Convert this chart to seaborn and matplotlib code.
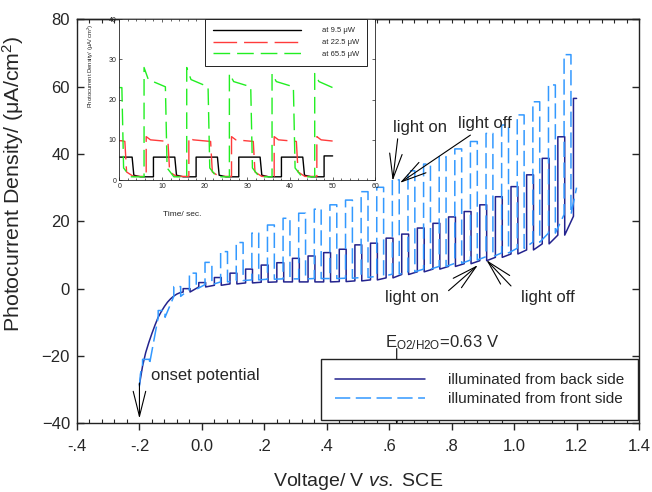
import pandas as pd
import seaborn as sns
import matplotlib.pyplot as plt
from matplotlib.ticker import MultipleLocator, FixedLocator, FixedFormatter

# ==================================
# Main chart data
# ==================================

# back side illumination: smooth part before the chopping starts
back_pre_v = [-0.2, -0.19, -0.18, -0.17, -0.16, -0.15, -0.14, -0.13, -0.12, -0.11, -0.1, -0.09, -0.08, -0.07]
back_pre_i = [-28.5, -23.0, -19.0, -16.0, -13.3, -10.8, -8.5, -6.8, -5.3, -4.0, -3.0, -2.2, -1.6, -1.2]

# back side: chopped part (light-on voltage, dark current, light current)
back_on_v = [-0.06, -0.01, 0.04, 0.09, 0.14, 0.19, 0.24, 0.29, 0.34, 0.39, 0.44, 0.49, 0.54,
             0.59, 0.64, 0.69, 0.74, 0.79, 0.84, 0.89, 0.94, 0.99, 1.04, 1.09, 1.14, 1.19]
back_dark = [-1.0, 0.5, 1.0, 1.4, 1.7, 1.9, 2.0, 2.0, 2.0, 2.0, 2.1, 2.3, 2.6,
             3.2, 4.2, 5.0, 5.8, 6.6, 7.4, 8.3, 9.3, 10.3, 11.5, 13.3, 15.9, 21.5]
back_light = [0.0, 1.8, 3.3, 4.6, 5.8, 7.0, 7.7, 9.0, 9.7, 10.7, 11.7, 13.0, 13.5,
              15.0, 16.2, 18.0, 19.4, 21.3, 22.9, 24.9, 27.3, 30.3, 33.8, 38.7, 45.1, 56.5]
back_end_v = 1.2

# front side illumination
front_pre_v = [-0.2, -0.197, -0.193]
front_pre_i = [-29.0, -25.5, -23.5]
front_on_v = [-0.19, -0.14, -0.09, -0.04, 0.01, 0.06, 0.11, 0.16, 0.21, 0.26, 0.31, 0.36, 0.41, 0.46,
              0.51, 0.56, 0.61, 0.66, 0.71, 0.76, 0.81, 0.86, 0.91, 0.96, 1.01, 1.06, 1.11, 1.16]
front_dark = [-22.5, -8.5, -2.3, -0.2, 1.2, 2.0, 2.4, 2.6, 2.8, 2.9, 2.9, 3.0, 3.0, 3.1,
              3.3, 3.7, 4.3, 5.0, 5.8, 6.6, 7.5, 8.5, 9.5, 10.6, 12.0, 13.8, 16.5, 22.0]
front_light = [-21.0, -6.5, 0.6, 4.6, 7.8, 11.0, 13.7, 16.5, 18.9, 20.9, 22.4, 23.6, 24.9, 26.3,
               28.8, 30.1, 32.3, 35.0, 37.0, 39.2, 41.5, 43.7, 46.1, 48.6, 51.6, 55.5, 60.5, 69.5]
front_tail_v = [1.2]
front_tail_i = [30.0]

x_ticks = [-0.4, -0.2, 0.0, 0.2, 0.4, 0.6, 0.8, 1.0, 1.2, 1.4]
x_tick_labels = ['-.4', '-.2', '0.0', '.2', '.4', '.6', '.8', '1.0', '1.2', '1.4']
y_ticks = [-40, -20, 0, 20, 40, 60, 80]

# ==================================
# Inset data (transients)
# ==================================

black_on = [0, 8, 18, 28, 38, 48]
black_off = [3, 13, 23, 33, 43]
black_peak = [5.7, 5.7, 5.7, 5.7, 5.7, 6.0]
black_level = [5.7, 5.7, 5.7, 5.7, 5.7, 6.0]
black_end = [5.7, 5.7, 5.7, 5.7, 5.7, 6.0]
black_mid, black_dark = 1.2, 0.8

red_on = [0, 6.3, 16.3, 26.3, 36.3, 46.3]
red_off = [1.3, 11.4, 21.4, 31.4, 41.5]
red_peak = [9.8, 10.8, 10.6, 10.8, 10.8, 10.8]
red_level = [9.7, 10.0, 10.0, 10.0, 10.0, 10.0]
red_end = [9.6, 9.6, 9.6, 9.6, 9.6, 9.7]
red_mid, red_dark = 2.0, 0.9

green_on = [0, 5.8, 15.8, 25.8, 35.8, 45.8]
green_off = [0.6, 10.8, 20.8, 30.8, 40.8]
green_peak = [23.0, 28.0, 28.0, 26.5, 26.5, 26.5]
green_level = [23.0, 25.0, 25.0, 24.5, 24.5, 24.5]
green_end = [23.0, 23.2, 23.2, 23.2, 23.2, 23.0]
green_mid, green_dark = 3.0, 0.8

t_end = 50

NAVY = '#23238e'
BLUE = '#3399ff'
CHOP = 0.022


def chop_path(pre_v, pre_i, on_v, dark, light, end_lit=None):
    xs, ys = list(pre_v), list(pre_i)
    for k, (v, d, l) in enumerate(zip(on_v, dark, light)):
        if end_lit is not None and k == len(on_v) - 1:
            xs += [v, v, end_lit]
            ys += [d, l, l]
        else:
            xs += [v, v, v + CHOP, v + CHOP]
            ys += [d, l, l, d]
    return xs, ys


def pulse_path(t_on, t_off, peak, level, end, mid, dark):
    xs, ys = [], []
    for k, t in enumerate(t_on):
        if k > 0:
            xs += [t]
            ys += [dark]
        stop = t_off[k] if k < len(t_off) else t_end
        xs += [t, min(t + 1.0, stop), stop]
        ys += [peak[k], level[k], end[k]]
        if k < len(t_off):
            xs += [stop + 0.4, stop + 2.0]
            ys += [mid, dark]
    return xs, ys


# ==================================
# Figure
# ==================================

sns.set_style('ticks')
plt.rcParams['font.family'] = ['Liberation Sans', 'DejaVu Sans']
plt.rcParams['mathtext.fontset'] = 'custom'
plt.rcParams['mathtext.rm'] = 'Liberation Sans'
plt.rcParams['mathtext.it'] = 'Liberation Sans:italic'
plt.rcParams['axes.edgecolor'] = '#222222'

fig = plt.figure(figsize=(6.52, 4.92), dpi=100)
ax = fig.add_axes([0.1181, 0.1396, 0.8620, 0.8212])

bx, by = chop_path(back_pre_v, back_pre_i, back_on_v, back_dark, back_light, end_lit=back_end_v)
fx, fy = chop_path(front_pre_v, front_pre_i, front_on_v, front_dark, front_light)
fx += front_tail_v
fy += front_tail_i

back_df = pd.DataFrame({'V': bx, 'I': by})
front_df = pd.DataFrame({'V': fx, 'I': fy})

sns.lineplot(data=back_df, x='V', y='I', sort=False, estimator=None, color=NAVY,
             lw=1.1, ax=ax, label='illuminated from back side')
sns.lineplot(data=front_df, x='V', y='I', sort=False, estimator=None, color=BLUE,
             lw=1.1, ax=ax, label='illuminated from front side')
ax.lines[1].set_dashes([10, 3.6])

ax.set_xlim(-0.4, 1.4)
ax.set_ylim(-40, 80)
ax.xaxis.set_major_locator(FixedLocator(x_ticks))
ax.xaxis.set_major_formatter(FixedFormatter(x_tick_labels))
ax.xaxis.set_minor_locator(MultipleLocator(0.04))
ax.set_yticks(y_ticks)
ax.tick_params(axis='x', which='major', direction='out', length=5, width=1, labelsize=12, pad=6, top=False)
ax.tick_params(axis='x', which='minor', direction='in', length=3, width=0.8, top=False)
ax.tick_params(axis='y', which='major', direction='in', length=5, width=1, labelsize=12, pad=5,
               left=True, right=True)
for s in ax.spines.values():
    s.set_linewidth(1.0)

top = ax.secondary_xaxis('top')
top.xaxis.set_major_locator(FixedLocator(x_ticks))
top.xaxis.set_minor_locator(MultipleLocator(0.04))
top.tick_params(which='both', direction='in', length=3, width=0.8, labeltop=False)
top.spines['top'].set_linewidth(1.0)

ax.set_xlabel(r'Voltage/ V $\it{vs.}$ SCE', fontsize=14)
ax.xaxis.set_label_coords(0.5, -0.118)
ax.set_ylabel(r'Photocurrent Density/ (μA/cm$^2$)', fontsize=15.4)
ax.yaxis.set_label_coords(-0.091, 0.592)

ax.legend(loc='lower right', bbox_to_anchor=(0.998, 0.008), borderaxespad=0, fontsize=11,
          handlelength=5.9, handletextpad=1.5, borderpad=0.9, labelspacing=0.35, frameon=True,
          fancybox=False, framealpha=1, edgecolor='#222222')
ax.get_legend().get_frame().set_linewidth(1.0)

# ==================================
# Annotations
# ==================================

arrow = dict(arrowstyle='->,head_length=1.8,head_width=0.45', color='black', lw=0.8,
             shrinkA=0, shrinkB=0, mutation_scale=10)

ax.annotate('', xy=(0.611, 32.0), xytext=(0.627, 44.5), arrowprops=arrow)
ax.annotate('', xy=(0.634, 31.4), xytext=(0.86, 45.6), arrowprops=arrow)
ax.text(0.700, 48.0, 'light on', ha='center', va='center', fontsize=12)
ax.text(0.906, 49.0, 'light off', ha='center', va='center', fontsize=12)

ax.annotate('', xy=(0.884, 7.0), xytext=(0.79, -0.6), arrowprops=arrow)
ax.annotate('', xy=(0.911, 8.5), xytext=(0.99, 0.8), arrowprops=arrow)
ax.text(0.672, -2.5, 'light on', ha='center', va='center', fontsize=12)
ax.text(1.107, -2.5, 'light off', ha='center', va='center', fontsize=12)

ax.annotate('', xy=(-0.2, -38.6), xytext=(-0.2, -28.0), arrowprops=arrow)
ax.text(-0.163, -25.8, 'onset potential', ha='left', va='center', fontsize=12)

ax.annotate('', xy=(0.624, -40.5), xytext=(0.624, -17.8), arrowprops=arrow, annotation_clip=False)
ax.text(0.586, -16.0, r'E$_{\rm O2/H2O}$=0.63 V', ha='left', va='center', fontsize=12)

# ==================================
# Inset
# ==================================

ins = fig.add_axes([0.183, 0.6341, 0.3926, 0.3267])
ins.set_facecolor('white')

kx, ky = pulse_path(black_on, black_off, black_peak, black_level, black_end, black_mid, black_dark)
rx, ry = pulse_path(red_on, red_off, red_peak, red_level, red_end, red_mid, red_dark)
gx, gy = pulse_path(green_on, green_off, green_peak, green_level, green_end, green_mid, green_dark)

sns.lineplot(x=kx, y=ky, sort=False, estimator=None, color='black', lw=1.0, ax=ins, label='at 9.5 μW')
sns.lineplot(x=rx, y=ry, sort=False, estimator=None, color='#ff3b3b', lw=1.0, ax=ins, label='at 22.5 μW')
sns.lineplot(x=gx, y=gy, sort=False, estimator=None, color='#22ee22', lw=1.0, ax=ins, label='at 65.5 μW')
ins.lines[1].set_dashes([17, 5])
ins.lines[2].set_dashes([12, 5])

ins.set_xlim(0, 60)
ins.set_ylim(0, 40)
ins.set_xticks([0, 10, 20, 30, 40, 50, 60])
ins.set_yticks([0, 10, 20, 30, 40])
ins.xaxis.set_minor_locator(MultipleLocator(2))
ins.tick_params(which='both', direction='in', labelsize=5, width=0.5, pad=2, right=True, top=True)
ins.tick_params(which='major', length=2.5)
ins.tick_params(which='minor', length=1.5)
for s in ins.spines.values():
    s.set_linewidth(0.6)

ins.set_xlabel('Time/ sec.', fontsize=6)
ins.xaxis.set_label_coords(0.245, -0.19)
ins.set_ylabel(r'Photocurrent Density/ (μA/ cm$^2$)', fontsize=4.2)
ins.yaxis.set_label_coords(-0.09, 0.71)

ins.legend(loc='upper left', bbox_to_anchor=(0.335, 1.0), borderaxespad=0, fontsize=5.5,
           handlelength=11.5, handletextpad=2.8, borderpad=1.0, labelspacing=0.6, frameon=True,
           fancybox=False, framealpha=1, edgecolor='#222222')
ins.get_legend().get_frame().set_linewidth(0.7)

fig.savefig('out.png', dpi=100)
